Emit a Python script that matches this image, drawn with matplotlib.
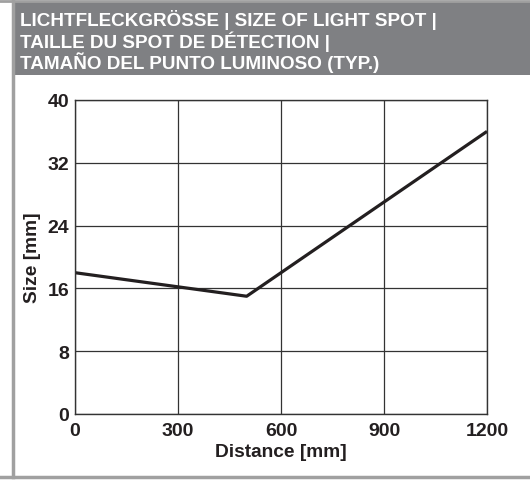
import matplotlib.pyplot as plt
from matplotlib.patches import Rectangle
from matplotlib.lines import Line2D

plt.rcParams['font.family'] = ['Liberation Sans', 'DejaVu Sans']

# data
distance = [0, 500, 1200]
size = [18, 15, 36]
xticks = [0, 300, 600, 900, 1200]
yticks = [0, 8, 16, 24, 32, 40]
title_lines = ['LICHTFLECKGRÖSSE | SIZE OF LIGHT SPOT |',
               'TAILLE DU SPOT DE DÉTECTION |',
               'TAMAÑO DEL PUNTO LUMINOSO (TYP.)']

fig = plt.figure(figsize=(5.30, 4.81), dpi=100)
W, H = 530, 481

# frame and header
fig.patches.append(Rectangle((14 / W, 1 - 76 / H), 1, 73 / H, transform=fig.transFigure,
                             facecolor='#7f8083', edgecolor='none'))
fig.lines.append(Line2D([0, 1], [1 - 2 / H, 1 - 2 / H], transform=fig.transFigure,
                        color='#a0a0a0', lw=2))
fig.lines.append(Line2D([13 / W, 13 / W], [1 - 2 / H, 1 - 478 / H], transform=fig.transFigure,
                        color='#a0a0a0', lw=2.5))
fig.lines.append(Line2D([0, 1], [1 - 478 / H, 1 - 478 / H], transform=fig.transFigure,
                        color='#a0a0a0', lw=2.5))
for i, t in enumerate(title_lines):
    fig.text(20 / W, 1 - (20 + i * 21.5) / H, t, color='white', fontsize=13.6,
             fontweight='bold', va='center', ha='left')

ax = fig.add_axes([75 / W, 1 - 415 / H, 412 / W, 314 / H])
ax.plot(distance, size, color='#231f20', lw=2.3, solid_capstyle='butt')
ax.set_xlim(0, 1200)
ax.set_ylim(0, 40)
ax.set_xticks(xticks)
ax.set_yticks(yticks)
ax.grid(True, color='#333333', lw=0.9)
ax.tick_params(length=0, labelsize=14, pad=4)
ax.tick_params(axis='x', pad=6)
for lab in ax.get_xticklabels() + ax.get_yticklabels():
    lab.set_fontweight('bold')
    lab.set_color('#231f20')
for s in ax.spines.values():
    s.set_color('#333333')
    s.set_linewidth(1.0)
ax.set_xlabel('Distance [mm]', fontsize=13.8, fontweight='bold', color='#231f20', labelpad=3)
ax.set_ylabel('Size [mm]', fontsize=13.8, fontweight='bold', color='#231f20', labelpad=5)

fig.savefig('out.png', dpi=100)
